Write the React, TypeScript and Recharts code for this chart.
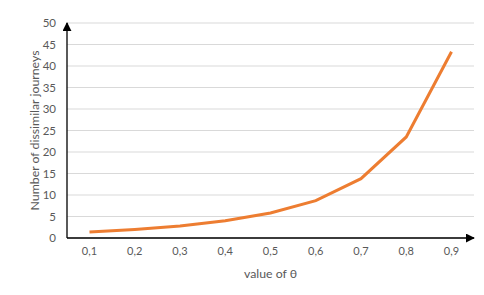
import React from 'react';
import { LineChart, Line, XAxis, YAxis, CartesianGrid } from 'recharts';

const thetaLabels = ['0,1', '0,2', '0,3', '0,4', '0,5', '0,6', '0,7', '0,8', '0,9'];
const journeys = [1.4, 2.0, 2.8, 4.0, 5.8, 8.7, 13.8, 23.5, 43.3];
const yTicks = [0, 5, 10, 15, 20, 25, 30, 35, 40, 45, 50];

const data = thetaLabels.map((t, i) => ({ theta: t, value: journeys[i] }));

const FONT = 'Lato, "Liberation Sans", sans-serif';
const TEXT = '#595959';

const YLabel = (props: any) => {
  const vb = props.viewBox || {};
  const x = vb.x + 26;
  const y = vb.y + vb.height / 2;
  return (
    <text x={x} y={y} transform={`rotate(-90, ${x}, ${y})`} textAnchor="middle" dominantBaseline="central"
      fill={TEXT} fontSize={12.3} fontFamily={FONT}>Number of dissimilar journeys</text>
  );
};

const XLabel = (props: any) => {
  const vb = props.viewBox || {};
  const x = vb.x + vb.width / 2;
  const y = vb.y + 35;
  return (
    <text x={x} y={y} textAnchor="middle" dominantBaseline="central" fill={TEXT} fontSize={12.3} fontFamily={FONT}>value of θ</text>
  );
};

export default function App() {
  return (
    <div style={{ position: 'relative', marginLeft: -1, marginTop: -1, width: 480, height: 287, borderLeft: '1px solid #d9d9d9', borderTop: '1px solid #d9d9d9' }}>
      <svg width={0} height={0} style={{ position: 'absolute' }}>
        <defs>
          <marker id="arrowHead" viewBox="0 0 10 10" refX="9" refY="5" markerWidth="9" markerHeight="9" markerUnits="userSpaceOnUse" orient="auto-start-reverse">
            <path d="M0,0 L10,5 L0,10 z" fill="#000" />
          </marker>
        </defs>
      </svg>
      <LineChart width={480} height={287} data={data} margin={{ top: 15, right: 14, left: 0, bottom: 0 }}>
        <CartesianGrid vertical={false} stroke="#d9d9d9" strokeWidth={1} />
        <XAxis dataKey="theta" height={57} padding={{ left: 22.5, right: 22.5 }}
          tickLine={false} tickSize={0} tickMargin={9}
          axisLine={{ stroke: '#000', strokeWidth: 1.3, markerEnd: 'url(#arrowHead)' } as any}
          tick={{ fill: TEXT, fontSize: 11, fontFamily: FONT }} interval={0}
          label={<XLabel />} />
        <YAxis domain={[0, 50]} ticks={yTicks} width={59} interval={0}
          tickLine={false} tickSize={0} tickMargin={11}
          axisLine={{ stroke: '#000', strokeWidth: 1.3, markerStart: 'url(#arrowHead)' } as any}
          tick={{ fill: TEXT, fontSize: 11.5, fontFamily: FONT }}
          label={<YLabel />} />
        <Line type="linear" dataKey="value" stroke="#ED7D31" strokeWidth={3} dot={false} isAnimationActive={false} />
      </LineChart>
    </div>
  );
}
